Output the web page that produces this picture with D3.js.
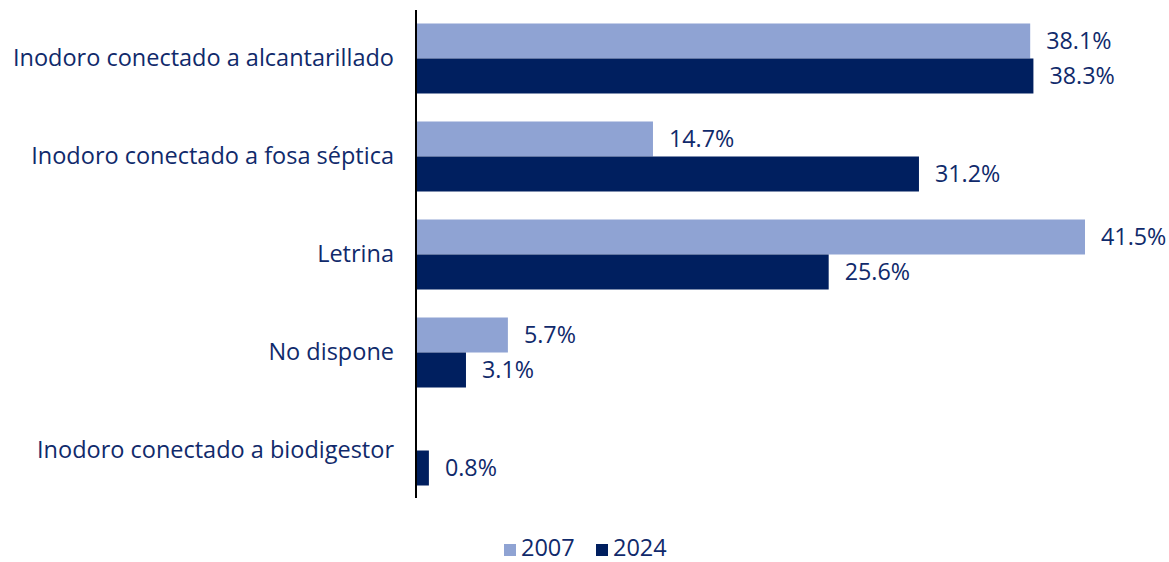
<!DOCTYPE html>
<html><head><meta charset="utf-8">
<script src="https://cdn.jsdelivr.net/npm/d3@7"></script>
<style>body{margin:0;background:#fff}svg{display:block}text{font-family:"Open Sans",sans-serif}</style>
</head><body><svg id="c" width="1169" height="562"></svg>
<script>
const categories = ["Inodoro conectado a alcantarillado","Inodoro conectado a fosa séptica","Letrina","No dispone","Inodoro conectado a biodigestor"];
const series = ["2007","2024"];
const values2007 = [38.1, 14.7, 41.5, 5.7, null];
const values2024 = [38.3, 31.2, 25.6, 3.1, 0.8];
const colors = ["#8fa3d3", "#001f5f"];
const textColor = "#102a6b";
const FONT = "'Open Sans',sans-serif";

const svg = d3.select("#c");
const x0 = 416;
const x = d3.scaleLinear().domain([0, 41.5]).range([x0, 1085]);
const y = d3.scaleBand().domain(categories).range([9.5, 499.5]).paddingInner(0.2857).paddingOuter(0.1428);
const y1 = d3.scaleBand().domain(series).range([0, y.bandwidth()]);

const data = categories.map((c,i)=>({c, vals:[values2007[i], values2024[i]]}));

const g = svg.append("g");
data.forEach(d=>{
  d.vals.forEach((v,j)=>{
    if (v==null) return;
    const yy = y(d.c) + y1(series[j]);
    g.append("rect").attr("x", x(0)).attr("y", yy).attr("width", x(v)-x(0)).attr("height", y1.bandwidth()).attr("fill", colors[j]);
    g.append("text").attr("x", x(v)+16).attr("y", yy + y1.bandwidth()/2).attr("dy","0.36em")
      .attr("font-size", 23.3).attr("font-family", FONT).attr("fill", textColor).text(v.toFixed(1)+"%");
  });
});

const yAxis = d3.axisLeft(y).tickSize(0).tickPadding(22);
const ax = svg.append("g").attr("transform", `translate(${x0},0)`).call(yAxis);
ax.select(".domain").attr("stroke","#000").attr("stroke-width",2).attr("d", "M0,10V498");
ax.selectAll("text").attr("font-size", 23.5).attr("fill", textColor).attr("font-family", FONT);

const leg = svg.append("g");
const legX = [504, 596];
series.forEach((s,i)=>{
  leg.append("rect").attr("x", legX[i]).attr("y", 544).attr("width", 12).attr("height", 12).attr("fill", colors[i]);
  leg.append("text").attr("x", legX[i]+17).attr("y", 556).attr("font-size", 23.5).attr("font-family", FONT).attr("fill", textColor).text(s);
});
</script></body></html>
